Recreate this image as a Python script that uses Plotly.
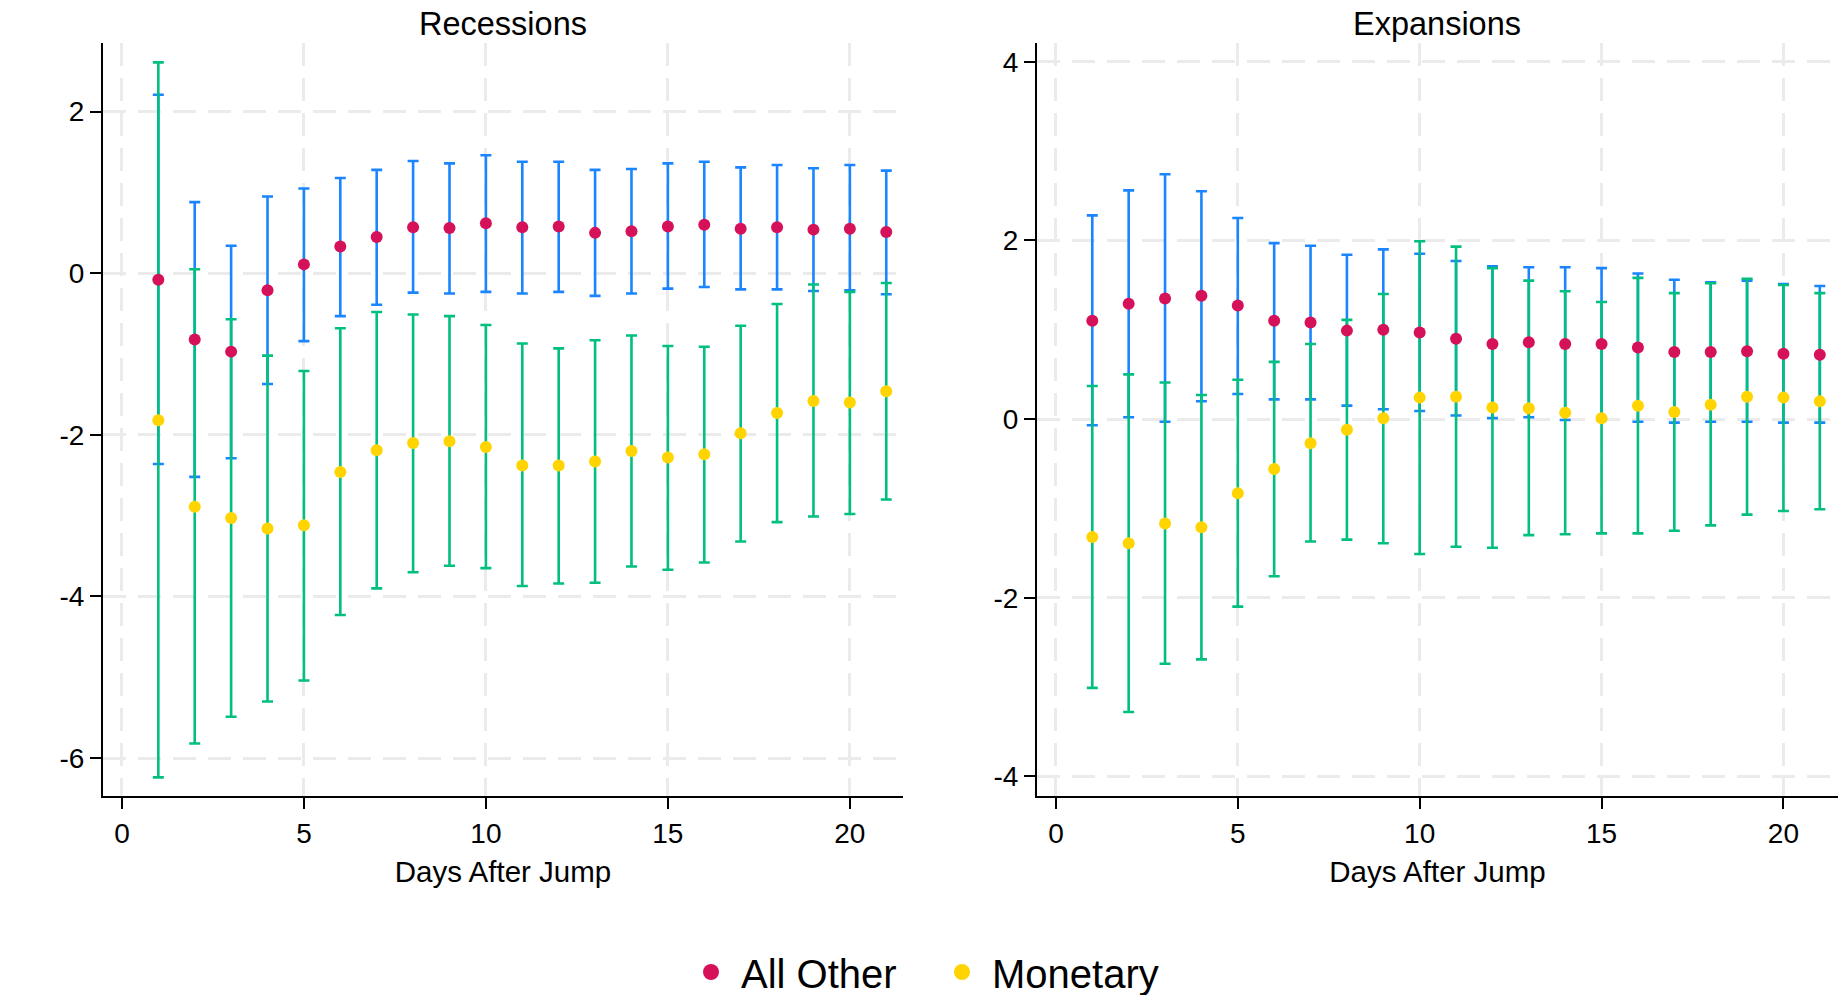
import plotly.graph_objects as go

days = list(range(1, 22))

# Recessions panel
other_rec = [-0.08, -0.82, -0.97, -0.21, 0.11, 0.33, 0.45, 0.57, 0.56, 0.62, 0.57,
             0.58, 0.50, 0.52, 0.58, 0.60, 0.55, 0.57, 0.54, 0.55, 0.51]
other_rec_hi = [2.21, 0.88, 0.34, 0.95, 1.05, 1.18, 1.28, 1.39, 1.36, 1.46, 1.38,
                1.38, 1.28, 1.29, 1.36, 1.38, 1.31, 1.34, 1.30, 1.34, 1.27]
other_rec_lo = [-2.36, -2.52, -2.29, -1.37, -0.84, -0.53, -0.39, -0.24, -0.25, -0.23, -0.25,
                -0.23, -0.28, -0.25, -0.19, -0.17, -0.20, -0.20, -0.22, -0.21, -0.26]
mon_rec = [-1.82, -2.89, -3.03, -3.16, -3.12, -2.46, -2.19, -2.10, -2.08, -2.15, -2.38,
           -2.38, -2.33, -2.20, -2.28, -2.24, -1.98, -1.73, -1.58, -1.60, -1.46]
mon_rec_hi = [2.61, 0.05, -0.57, -1.02, -1.21, -0.68, -0.48, -0.51, -0.53, -0.64, -0.87,
              -0.93, -0.83, -0.77, -0.90, -0.91, -0.65, -0.38, -0.14, -0.23, -0.12]
mon_rec_lo = [-6.24, -5.82, -5.49, -5.30, -5.04, -4.23, -3.90, -3.70, -3.62, -3.65, -3.87,
              -3.84, -3.83, -3.63, -3.67, -3.58, -3.32, -3.08, -3.01, -2.98, -2.80]

# Expansions panel
other_exp = [1.10, 1.29, 1.35, 1.38, 1.27, 1.10, 1.08, 0.99, 1.00, 0.97, 0.90,
             0.84, 0.86, 0.84, 0.84, 0.80, 0.75, 0.75, 0.76, 0.73, 0.72]
other_exp_hi = [2.28, 2.56, 2.74, 2.55, 2.25, 1.97, 1.94, 1.84, 1.90, 1.85, 1.77,
                1.71, 1.70, 1.70, 1.69, 1.63, 1.56, 1.53, 1.55, 1.51, 1.49]
other_exp_lo = [-0.07, 0.02, -0.03, 0.20, 0.28, 0.22, 0.22, 0.15, 0.11, 0.09, 0.04,
                0.01, 0.02, -0.01, -0.01, -0.03, -0.04, -0.03, -0.03, -0.04, -0.04]
mon_exp = [-1.32, -1.39, -1.17, -1.21, -0.83, -0.56, -0.27, -0.12, 0.01, 0.24, 0.25,
           0.13, 0.12, 0.07, 0.01, 0.15, 0.08, 0.16, 0.25, 0.24, 0.20]
mon_exp_hi = [0.37, 0.50, 0.41, 0.27, 0.44, 0.64, 0.84, 1.11, 1.40, 1.99, 1.93,
              1.69, 1.55, 1.43, 1.31, 1.58, 1.41, 1.52, 1.57, 1.50, 1.41]
mon_exp_lo = [-3.01, -3.28, -2.74, -2.69, -2.10, -1.76, -1.37, -1.35, -1.39, -1.51, -1.43,
              -1.44, -1.30, -1.29, -1.28, -1.28, -1.25, -1.19, -1.07, -1.03, -1.01]

panel_titles = ["Recessions", "Expansions"]
series_names = ["All Other", "Monetary"]
x_ticks = [0, 5, 10, 15, 20]
y_ticks_rec = [-6, -4, -2, 0, 2]
y_ticks_exp = [-4, -2, 0, 2, 4]

RED = "#D41159"
YELLOW = "#FFD400"
BLUE = "#1A85FF"
GREEN = "#00BF7F"
FONT = "Liberation Sans, Arial, Helvetica, sans-serif"

fig = go.Figure()


def add_panel(xa, ya, pt_o, hi_o, lo_o, pt_m, hi_m, lo_m):
    for pts, hi, lo, col in [(pt_o, hi_o, lo_o, BLUE), (pt_m, hi_m, lo_m, GREEN)]:
        fig.add_trace(go.Scatter(
            x=days, y=pts, mode="markers", xaxis=xa, yaxis=ya,
            marker=dict(size=1, opacity=0),
            error_y=dict(type="data", symmetric=False,
                         array=[h - p for h, p in zip(hi, pts)],
                         arrayminus=[p - l for p, l in zip(pts, lo)],
                         color=col, thickness=2.6, width=5.5),
            showlegend=False, hoverinfo="skip"))
    for pts, col, name in [(pt_o, RED, series_names[0]), (pt_m, YELLOW, series_names[1])]:
        fig.add_trace(go.Scatter(
            x=days, y=pts, mode="markers", xaxis=xa, yaxis=ya, name=name,
            marker=dict(size=12, color=col, line=dict(width=0)),
            showlegend=False))


add_panel("x", "y", other_rec, other_rec_hi, other_rec_lo, mon_rec, mon_rec_hi, mon_rec_lo)
add_panel("x2", "y2", other_exp, other_exp_hi, other_exp_lo, mon_exp, mon_exp_hi, mon_exp_lo)

# legend entries (larger legend symbols)
for col, name in [(RED, series_names[0]), (YELLOW, series_names[1])]:
    fig.add_trace(go.Scatter(x=[None], y=[None], mode="markers", name=name,
                             marker=dict(size=16, color=col, line=dict(width=0)),
                             showlegend=True))

dom_x1 = [103 / 1844, 903 / 1844]
dom_x2 = [1037 / 1844, 1838 / 1844]
dom_y = [1 - 796 / 995, 1 - 43 / 995]

axis_common = dict(
    showline=True, linecolor="black", linewidth=2,
    ticks="outside", ticklen=11, tickwidth=2, tickcolor="black",
    showgrid=True, gridcolor="#EBEBEB", gridwidth=2.5, griddash="23px,12px",
    zeroline=False, automargin=False,
    tickfont=dict(size=28, color="black", family=FONT),
)

fig.update_layout(
    width=1844, height=995,
    margin=dict(l=0, r=0, t=0, b=0, autoexpand=False),
    paper_bgcolor="white", plot_bgcolor="white",
    font=dict(family=FONT, color="black"),
    xaxis=dict(domain=dom_x1, anchor="y", range=[-0.52, 21.46], tickvals=x_ticks,
               title=dict(text="Days After Jump", font=dict(size=29.5), standoff=14),
               **axis_common),
    yaxis=dict(domain=dom_y, anchor="x", range=[-6.47, 2.85], tickvals=y_ticks_rec,
               ticktext=[str(v) for v in y_ticks_rec], **axis_common),
    xaxis2=dict(domain=dom_x2, anchor="y2", range=[-0.52, 21.5], tickvals=x_ticks,
                title=dict(text="Days After Jump", font=dict(size=29.5), standoff=14),
                **axis_common),
    yaxis2=dict(domain=dom_y, anchor="x2", range=[-4.22, 4.21], tickvals=y_ticks_exp,
                ticktext=[str(v) for v in y_ticks_exp], **axis_common),
    legend=dict(orientation="h", x=(711 - 30) / 1844, xanchor="left",
                y=1 - 972 / 995, yanchor="middle",
                font=dict(size=40, color="black", family=FONT),
                itemsizing="trace", itemwidth=50, entrywidth=186),
    showlegend=True,
)

for title, dom in zip(panel_titles, [dom_x1, dom_x2]):
    fig.add_annotation(text=title, x=(dom[0] + dom[1]) / 2, y=1 - 24 / 995,
                       xref="paper", yref="paper", showarrow=False,
                       xanchor="center", yanchor="middle",
                       font=dict(size=32.5, color="black", family=FONT))

fig.write_html("out.html", config={"displayModeBar": False},
               post_script="document.body.style.margin='0';document.body.style.overflow='hidden';")
